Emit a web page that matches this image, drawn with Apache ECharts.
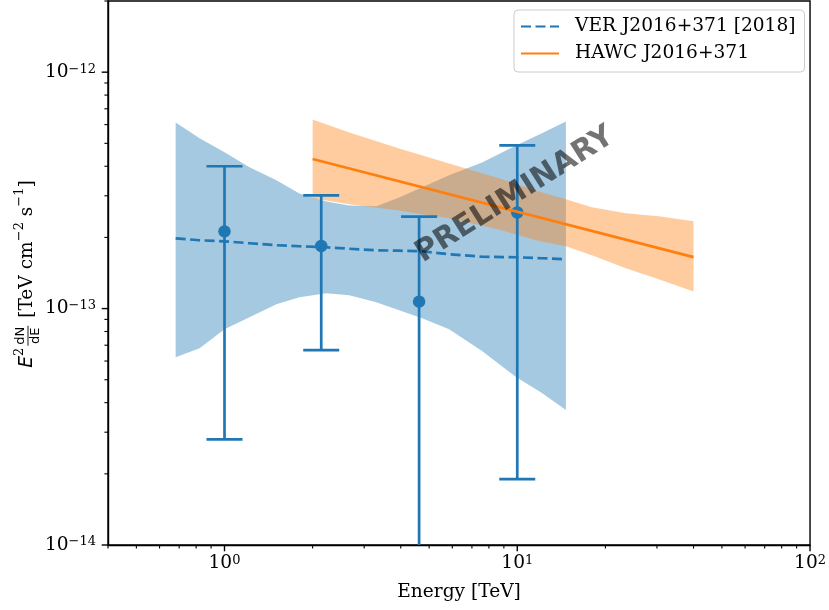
<!DOCTYPE html>
<html>
<head>
<meta charset="utf-8">
<script src="https://cdn.jsdelivr.net/npm/echarts@6/dist/echarts.min.js"></script>
<style>
html, body { margin: 0; padding: 0; background: #fff; }
#chart { width: 829px; height: 610px; }
</style>
</head>
<body>
<div id="chart"></div>
<script>
// VERITAS spectrum: butterfly band + model (energy in TeV, E^2 dN/dE in TeV cm^-2 s^-1)
var verE     = [0.681, 0.822, 1.0, 1.217, 1.504, 1.802, 2.227, 2.668, 3.299, 3.951, 4.732, 5.85, 7.58, 9.90, 12.14, 14.66];
var verUpper = [6.13e-13, 5.25e-13, 4.58e-13, 3.96e-13, 3.49e-13, 3.07e-13, 2.84e-13, 2.73e-13, 2.71e-13, 2.95e-13, 3.26e-13, 3.66e-13, 4.15e-13, 4.90e-13, 5.51e-13, 6.19e-13];
var verLower = [6.23e-14, 6.80e-14, 8.18e-14, 9.20e-14, 1.044e-13, 1.117e-13, 1.162e-13, 1.139e-13, 1.064e-13, 9.84e-14, 9.11e-14, 8.18e-14, 6.61e-14, 5.13e-14, 4.39e-14, 3.72e-14];
var verModel = [1.983e-13, 1.945e-13, 1.926e-13, 1.89e-13, 1.853e-13, 1.835e-13, 1.817e-13, 1.791e-13, 1.765e-13, 1.757e-13, 1.748e-13, 1.698e-13, 1.657e-13, 1.649e-13, 1.633e-13, 1.617e-13];

// VERITAS flux points with error bars
var ptE  = [1.0, 2.14, 4.62, 10.0];
var ptF  = [2.12e-13, 1.84e-13, 1.07e-13, 2.55e-13];
var ptLo = [2.8e-14, 6.67e-14, 5e-15, 1.9e-14];
var ptHi = [4.0e-13, 3.01e-13, 2.45e-13, 4.9e-13];

// HAWC band + power law
var hawcE     = [2.0, 2.668, 3.951, 5.85, 8.66, 11.86, 14.66, 17.98, 23.48, 30.42, 40.0];
var hawcUpper = [6.31e-13, 5.56e-13, 4.76e-13, 4.11e-13, 3.56e-13, 3.13e-13, 2.90e-13, 2.68e-13, 2.53e-13, 2.46e-13, 2.34e-13];
var hawcLower = [2.93e-13, 2.76e-13, 2.60e-13, 2.41e-13, 2.16e-13, 1.93e-13, 1.835e-13, 1.68e-13, 1.48e-13, 1.33e-13, 1.18e-13];
var hawcLineE = [2.0, 40.0];
var hawcLineF = [4.29e-13, 1.65e-13];

// tick positions
var xMajor = [1, 10, 100];
var xMinor = [0.4, 0.5, 0.6, 0.7, 0.8, 0.9, 2, 3, 4, 5, 6, 7, 8, 9, 20, 30, 40, 50, 60, 70, 80, 90];
var yMajor = [1e-14, 1e-13, 1e-12];
var yMinor = [2e-14, 3e-14, 4e-14, 5e-14, 6e-14, 7e-14, 8e-14, 9e-14, 2e-13, 3e-13, 4e-13, 5e-13, 6e-13, 7e-13, 8e-13, 9e-13, 2e-12];

var X_MIN = 0.4, X_MAX = 100, Y_MIN = 1e-14, Y_MAX = 2e-12;
var BLUE = '#1f77b4', ORANGE = '#ff7f0e';
var SERIF = '"DejaVu Serif", serif';
var FS = 18.6;

function powLabel(v) {
    var lg = Math.log10(v);
    var e = Math.round(lg);
    if (Math.abs(lg - e) > 1e-6) return '';
    return '{b|10}{s|' + (e < 0 ? '\u2212' + (-e) : e) + '}';
}
var labelRich = {
    b: { fontFamily: SERIF, fontSize: FS, lineHeight: 19, color: '#000', verticalAlign: 'bottom' },
    s: { fontFamily: SERIF, fontSize: 13, lineHeight: 12, color: '#000', verticalAlign: 'top' }
};

function bandRender(xs, up, lo, color) {
    return function (params, api) {
        if (params.dataIndex !== 0) return;
        var pts = [];
        for (var i = 0; i < xs.length; i++) pts.push(api.coord([xs[i], up[i]]));
        for (var j = xs.length - 1; j >= 0; j--) pts.push(api.coord([xs[j], lo[j]]));
        return { type: 'polygon', shape: { points: pts }, style: { fill: color } };
    };
}

var chart = echarts.init(document.getElementById('chart'));

// y axis title laid out by hand (fraction dN/dE)
var mctx = document.createElement('canvas').getContext('2d');
function tw(font, s) { mctx.font = font; return mctx.measureText(s).width; }
var fMain = FS + 'px "DejaVu Serif"', fIt = 'italic ' + FS + 'px "DejaVu Sans"', fSup = '13px "DejaVu Serif"', fFr = '13px "DejaVu Sans"';
var parts = [
    { t: 'E', f: fIt, dy: 0 },
    { t: '2', f: fSup, dy: -7 },
    { frac: true },
    { t: ' [TeV cm', f: fMain, dy: 0 },
    { t: '\u22122', f: fSup, dy: -7 },
    { t: ' s', f: fMain, dy: 0 },
    { t: '\u22121', f: fSup, dy: -7 },
    { t: ']', f: fMain, dy: 0 }
];
var fracW = Math.max(tw(fFr, 'dN'), tw(fFr, 'dE')) + 2;
var totalW = 0;
parts.forEach(function (p) { p.w = p.frac ? fracW + 4 : tw(p.f, p.t); totalW += p.w; });
var yTitle = [];
var cx = -totalW / 2;
parts.forEach(function (p) {
    if (p.frac) {
        var mid = cx + 2 + fracW / 2;
        yTitle.push({ type: 'text', x: mid, y: -6.5, style: { text: 'dN', font: fFr, fill: '#000', align: 'center', verticalAlign: 'middle' } });
        yTitle.push({ type: 'text', x: mid, y: 8.5, style: { text: 'dE', font: fFr, fill: '#000', align: 'center', verticalAlign: 'middle' } });
        yTitle.push({ type: 'line', shape: { x1: cx + 2, y1: 1, x2: cx + 2 + fracW, y2: 1 }, style: { stroke: '#000', lineWidth: 0.9 } });
    } else {
        yTitle.push({ type: 'text', x: cx, y: p.dy, style: { text: p.t, font: p.f, fill: '#000', align: 'left', verticalAlign: 'middle' } });
    }
    cx += p.w;
});

chart.setOption({
    animation: false,
    backgroundColor: '#fff',
    grid: { left: 108, right: 18, top: 1, bottom: 65, show: true, borderColor: '#000', borderWidth: 1.4, backgroundColor: 'transparent' },
    legend: {
        left: 514, top: 10, orient: 'vertical',
        itemWidth: 38, itemHeight: 14, itemGap: 8,
        padding: [7, 9, 9, 6],
        backgroundColor: 'rgba(255,255,255,0.8)', borderColor: '#cccccc', borderWidth: 1, borderRadius: 4,
        itemStyle: { opacity: 0 },
        textStyle: { fontFamily: SERIF, fontSize: FS, lineHeight: 18, color: '#000', padding: [0, 0, 0, 11] },
        data: ['VER J2016+371 [2018]', 'HAWC J2016+371']
    },
    xAxis: {
        type: 'log', logBase: 10, min: X_MIN, max: X_MAX,
        axisLine: { show: true, lineStyle: { color: '#000', width: 1.4 } },
        axisTick: { show: false }, splitLine: { show: false },
        axisLabel: { formatter: powLabel, rich: labelRich, margin: 9 },
        name: 'Energy [TeV]', nameLocation: 'middle', nameGap: 38,
        nameTextStyle: { fontFamily: SERIF, fontSize: FS, color: '#000' }
    },
    yAxis: {
        type: 'log', logBase: 10, min: Y_MIN, max: Y_MAX,
        axisLine: { show: true, lineStyle: { color: '#000', width: 1.4 } },
        axisTick: { show: false }, splitLine: { show: false },
        axisLabel: { formatter: powLabel, rich: labelRich, margin: 12 }
    },
    graphic: [
        { type: 'group', x: 27, y: 274, rotation: Math.PI / 2, children: yTitle },
        {
            type: 'text', x: 515, y: 195, rotation: 32.4 * Math.PI / 180, z: 100,
            style: { text: 'PRELIMINARY', font: 'bold 30px "DejaVu Sans"', fill: 'rgba(0,0,0,0.55)', align: 'center', verticalAlign: 'middle' }
        }
    ],
    series: [
        {
            type: 'custom', silent: true,
            renderItem: bandRender(verE, verUpper, verLower, 'rgba(31,119,180,0.4)'),
            data: verE.map(function (e, i) { return [e, verUpper[i], verLower[i]]; }),
            encode: { x: 0, y: [1, 2] }
        },
        {
            type: 'custom', silent: true,
            renderItem: bandRender(hawcE, hawcUpper, hawcLower, 'rgba(255,127,14,0.4)'),
            data: hawcE.map(function (e, i) { return [e, hawcUpper[i], hawcLower[i]]; }),
            encode: { x: 0, y: [1, 2] }
        },
        {
            name: 'VER J2016+371 [2018]', type: 'line', symbol: 'none', color: BLUE,
            lineStyle: { color: BLUE, width: 2.7, type: [10, 4.5] },
            data: verE.map(function (e, i) { return [e, verModel[i]]; })
        },
        {
            name: 'HAWC J2016+371', type: 'line', symbol: 'none', color: ORANGE,
            lineStyle: { color: ORANGE, width: 2.7 },
            data: hawcLineE.map(function (e, i) { return [e, hawcLineF[i]]; })
        },
        {
            type: 'custom', silent: true, clip: true,
            renderItem: function (params, api) {
                var x = api.value(0);
                var pLo = api.coord([x, api.value(1)]);
                var pHi = api.coord([x, api.value(2)]);
                var st = { stroke: BLUE, lineWidth: 2.7 };
                return {
                    type: 'group', children: [
                        { type: 'line', shape: { x1: pLo[0], y1: pLo[1], x2: pHi[0], y2: pHi[1] }, style: st },
                        { type: 'line', shape: { x1: pHi[0] - 18, y1: pHi[1], x2: pHi[0] + 18, y2: pHi[1] }, style: st },
                        { type: 'line', shape: { x1: pLo[0] - 18, y1: pLo[1], x2: pLo[0] + 18, y2: pLo[1] }, style: st }
                    ]
                };
            },
            data: ptE.map(function (e, i) { return [e, ptLo[i], ptHi[i]]; }),
            encode: { x: 0, y: [1, 2] }
        },
        {
            type: 'scatter', silent: true, symbol: 'circle', symbolSize: 12.5,
            itemStyle: { color: BLUE, opacity: 1 },
            data: ptE.map(function (e, i) { return [e, ptF[i]]; })
        },
        {
            type: 'custom', silent: true, clip: false,
            renderItem: function (params, api) {
                var p = api.coord([api.value(0), api.value(1)]);
                var len = api.value(2);
                return { type: 'line', shape: { x1: p[0], y1: p[1], x2: p[0], y2: p[1] + len }, style: { stroke: '#000', lineWidth: len > 5 ? 1.4 : 1.1 } };
            },
            data: xMajor.map(function (v) { return [v, Y_MIN, 6.3]; }).concat(xMinor.map(function (v) { return [v, Y_MIN, 3.6]; })),
            encode: { x: 0, y: 1 }
        },
        {
            type: 'custom', silent: true, clip: false,
            renderItem: function (params, api) {
                var p = api.coord([api.value(0), api.value(1)]);
                var len = api.value(2);
                return { type: 'line', shape: { x1: p[0], y1: p[1], x2: p[0] - len, y2: p[1] }, style: { stroke: '#000', lineWidth: len > 5 ? 1.4 : 1.1 } };
            },
            data: yMajor.map(function (v) { return [X_MIN, v, 6.3]; }).concat(yMinor.map(function (v) { return [X_MIN, v, 3.6]; })),
            encode: { x: 0, y: 1 }
        }
    ]
});
</script>
</body>
</html>
